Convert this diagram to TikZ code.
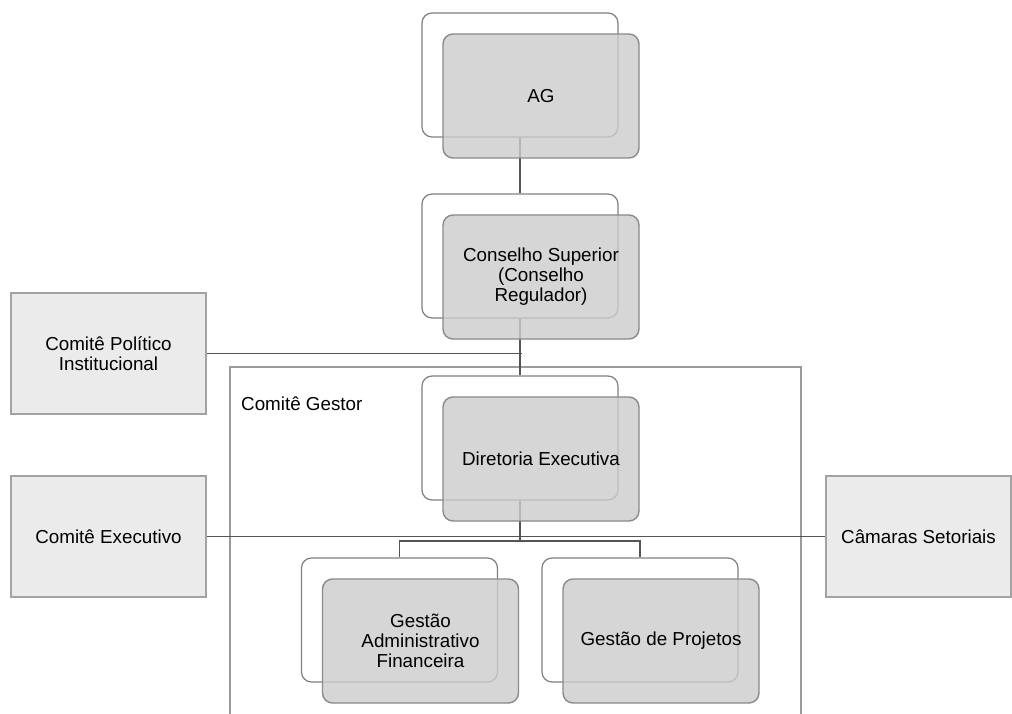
\documentclass[tikz,border=0pt]{standalone}
\usepackage{fontspec}
\setmainfont{Liberation Sans}
\definecolor{frontfill}{HTML}{CCCCCC}
\definecolor{frontline}{HTML}{8A8A8A}
\definecolor{backline}{HTML}{808080}
\definecolor{sidefill}{HTML}{EBEBEB}
\definecolor{sideline}{HTML}{A3A3A3}
\definecolor{conn}{HTML}{555555}
\definecolor{gestorline}{HTML}{9A9A9A}
\begin{document}
\begin{tikzpicture}[x=1pt,y=-1pt,
  every node/.style={font=\fontsize{18.8}{20}\selectfont, text=black},
  backbox/.style={draw=backline, line width=1.2pt, fill=white, rounded corners=10pt,
    minimum width=196pt, minimum height=124pt, inner sep=0pt},
  frontbox/.style={draw=frontline, line width=1.4pt, fill=frontfill, fill opacity=0.8,
    text opacity=1, draw opacity=1, rounded corners=10pt,
    minimum width=196pt, minimum height=124pt, align=center, inner sep=2pt},
  sidebox/.style={draw=sideline, line width=1.2pt, fill=sidefill,
    minimum height=121pt, align=center, inner sep=0pt},
  link/.style={draw=conn, line width=1.4pt},
  gestorbox/.style={draw=gestorline, line width=1.1pt}
]
\useasboundingbox (0,0) rectangle (1012,714);
\fill[white] (0,0) rectangle (1012,714);

% Comite Gestor frame
\draw[gestorbox] (230,367) rectangle (801,730);
\node[anchor=west, inner sep=0pt] (gestorlabel) at (241,404) {Comitê Gestor};

% side boxes
\node[sidebox, minimum width=195pt] (pol) at (108.5,353.5) {Comitê Político\\Institucional};
\node[sidebox, minimum width=195pt] (exe) at (108.5,536.5) {Comitê Executivo};
\node[sidebox, minimum width=185pt] (cam) at (918.5,536.5) {Câmaras Setoriais};

% back boxes
\node[backbox] (agB) at (520,75) {};
\node[backbox] (conB) at (520,256) {};
\node[backbox] (dirB) at (520,438) {};
\node[backbox] (adB) at (399.5,620) {};
\node[backbox] (prB) at (640,620) {};

% connectors
\coordinate (bus) at (520,541);
\draw[link] (agB.south) -- (conB.north);
\draw[link] (conB.south) -- (dirB.north);
\draw[link] (pol.east) -- ([xshift=2pt]pol.east -| dirB.north);
\draw[link] (exe.east) -- (cam.west);
\draw[link] (dirB.south) -- (bus);
\draw[link] (adB.north) |- (bus) -| (prB.north);

% front boxes
\node[frontbox] (ag) at (541,96) {AG};
\node[frontbox] (con) at (541,277) {Conselho Superior\\(Conselho\\Regulador)};
\node[frontbox] (dir) at (541,459) {Diretoria Executiva};
\node[frontbox] (ad) at (420.5,641) {Gestão\\Administrativo\\Financeira};
\node[frontbox] (pr) at (661,641) {Gestão de Projetos};
\end{tikzpicture}
\end{document}
